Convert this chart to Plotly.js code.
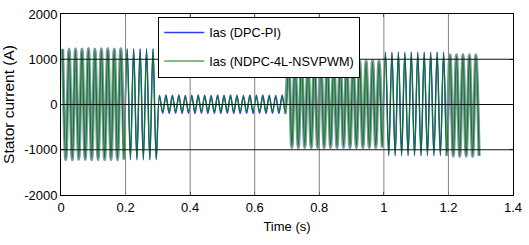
<!DOCTYPE html>
<html>
<head>
<meta charset="utf-8">
<script src="https://cdn.plot.ly/plotly-3.0.1.min.js"></script>
<style>
html,body{margin:0;padding:0;background:#fff;}
#chart{width:529px;height:245px;}
</style>
</head>
<body>
<div id="chart"></div>
<script>
// Sampling grid: one sample per half-cycle extremum (50 Hz current)
const timeStart = 0.005;   // s
const timeStep = 0.01;     // s

// Ias (DPC-PI) extremum values (A)
const iasDpcPi = [
  1230,-1215,1225,-1220,1230,-1210,1225,-1215,1235,-1220,
  1225,-1215,1230,-1220,1235,-1215,1225,-1220,1230,-1215,
  1240,-1220,1235,-1225,1240,-1220,1235,-1225,1240,-1220,
  205,-195,210,-200,205,-195,210,-200,200,-195,
  205,-200,210,-195,205,-200,200,-195,210,-200,
  205,-195,210,-200,205,-200,200,-195,210,-200,
  205,-195,210,-200,205,-195,200,-200,210,-205,
  970,-950,960,-955,965,-950,960,-955,970,-950,
  965,-955,960,-950,970,-955,965,-950,960,-955,
  970,-950,965,-955,960,-950,970,-955,965,-950,
  1160,-1130,1155,-1135,1160,-1130,1155,-1135,1160,-1130,
  1155,-1135,1160,-1130,1155,-1135,1160,-1130,1155,-1135,
  1100,-1140,1095,-1145,1100,-1140,1095,-1145,1100,-1140
];

// Ias (NDPC-4L-NSVPWM) extremum values (A)
const iasNdpc = [
  1210,-1190,1200,-1195,1205,-1185,1200,-1190,1210,-1195,
  1200,-1190,1205,-1195,1210,-1190,1200,-1195,1205,-1190,
  1215,-1195,1210,-1200,1215,-1195,1210,-1200,1215,-1195,
  170,-160,175,-165,170,-160,175,-165,165,-160,
  170,-165,175,-160,170,-165,165,-160,175,-165,
  170,-160,175,-165,170,-165,165,-160,175,-165,
  170,-160,175,-165,170,-160,165,-165,175,-170,
  940,-915,925,-920,930,-915,925,-920,935,-915,
  930,-920,925,-915,935,-920,930,-915,925,-920,
  935,-915,930,-920,925,-915,935,-920,930,-915,
  1140,-1105,1135,-1110,1140,-1105,1135,-1110,1140,-1105,
  1135,-1110,1140,-1105,1135,-1110,1140,-1105,1135,-1110,
  1080,-1115,1075,-1120,1080,-1115,1075,-1120,1080,-1115
];

const seriesNames = ['Ias (DPC-PI)', 'Ias (NDPC-4L-NSVPWM)'];
const xTicks = [0, 0.2, 0.4, 0.6, 0.8, 1, 1.2, 1.4];
const xTickText = ['0', '0.2', '0.4', '0.6', '0.8', '1', '1.2', '1.4'];
const yTicks = [-2000, -1000, 0, 1000, 2000];
const yTickText = ['-2000', '-1000', '0', '1000', '2000'];

const timeS = iasDpcPi.map((_, i) => timeStart + i * timeStep);

// DPC-PI drawn in pieces: plain blue, and a blended band look where it overlaps densely
const bluePieces = [
  {from: 19, to: 71, style: 'plain', legend: true},
  {from: 99, to: 121, style: 'plain', legend: false},
  {from: 0, to: 20, style: 'band', legend: false},
  {from: 69, to: 100, style: 'band', legend: false},
  {from: 119, to: 130, style: 'band', legend: false}
];

const traces = [];
bluePieces.forEach(p => {
  const band = p.style === 'band';
  traces.push({
    type: 'scatter', mode: 'lines',
    x: timeS.slice(p.from, p.to), y: iasDpcPi.slice(p.from, p.to),
    name: seriesNames[0], legendgroup: 'a', showlegend: p.legend,
    line: {color: band ? '#7c97aa' : '#2f3ff0', width: band ? 3.2 : 1.5, shape: 'spline', smoothing: 1},
    hoverinfo: 'skip'
  });
});
traces.push({
  type: 'scatter', mode: 'lines',
  x: timeS, y: iasNdpc,
  name: seriesNames[1], legendgroup: 'b',
  line: {color: '#0a7d0a', width: 1.1, shape: 'spline', smoothing: 1},
  hoverinfo: 'skip'
});

const shapes = [];
xTicks.slice(1, -1).forEach(v => shapes.push({
  type: 'line', xref: 'x', yref: 'paper', x0: v, x1: v, y0: 0, y1: 1,
  line: {color: '#858585', width: 1}, layer: 'above'
}));
yTicks.slice(1, -1).forEach(v => shapes.push({
  type: 'line', xref: 'paper', yref: 'y', x0: 0, x1: 1, y0: v, y1: v,
  line: {color: '#111111', width: 1}, layer: 'above'
}));

const fontFam = 'Liberation Sans, Arial, sans-serif';
const layout = {
  width: 529, height: 245,
  margin: {l: 61, r: 16, t: 14, b: 50},
  paper_bgcolor: '#fff', plot_bgcolor: '#fff',
  font: {family: fontFam, size: 12.5, color: '#000'},
  showlegend: true,
  legend: {
    x: 0.215, y: 0.985, xanchor: 'left', yanchor: 'top',
    bgcolor: '#fff', bordercolor: '#000', borderwidth: 1,
    font: {family: fontFam, size: 12.7, color: '#000'},
    itemwidth: 40,
    traceorder: 'grouped', tracegroupgap: 9
  },
  xaxis: {
    range: [0, 1.4], tickvals: xTicks, ticktext: xTickText,
    showgrid: false, zeroline: false,
    showline: true, linecolor: '#000', linewidth: 1, mirror: 'ticks',
    ticks: 'inside', ticklen: 3, tickcolor: '#000',
    tickfont: {family: fontFam, size: 13, color: '#000'},
    title: {text: 'Time (s)', font: {family: fontFam, size: 13, color: '#000'}, standoff: 8}
  },
  yaxis: {
    range: [-2000, 2000], tickvals: yTicks, ticktext: yTickText,
    showgrid: false, zeroline: false,
    showline: true, linecolor: '#000', linewidth: 1, mirror: 'ticks',
    ticks: 'inside', ticklen: 3, tickcolor: '#000',
    tickfont: {family: fontFam, size: 13, color: '#000'},
    title: {text: 'Stator current (A)', font: {family: fontFam, size: 15.5, color: '#000'}, standoff: 5}
  },
  shapes: shapes
};

Plotly.newPlot('chart', traces, layout, {displayModeBar: false, staticPlot: true});
</script>
</body>
</html>
